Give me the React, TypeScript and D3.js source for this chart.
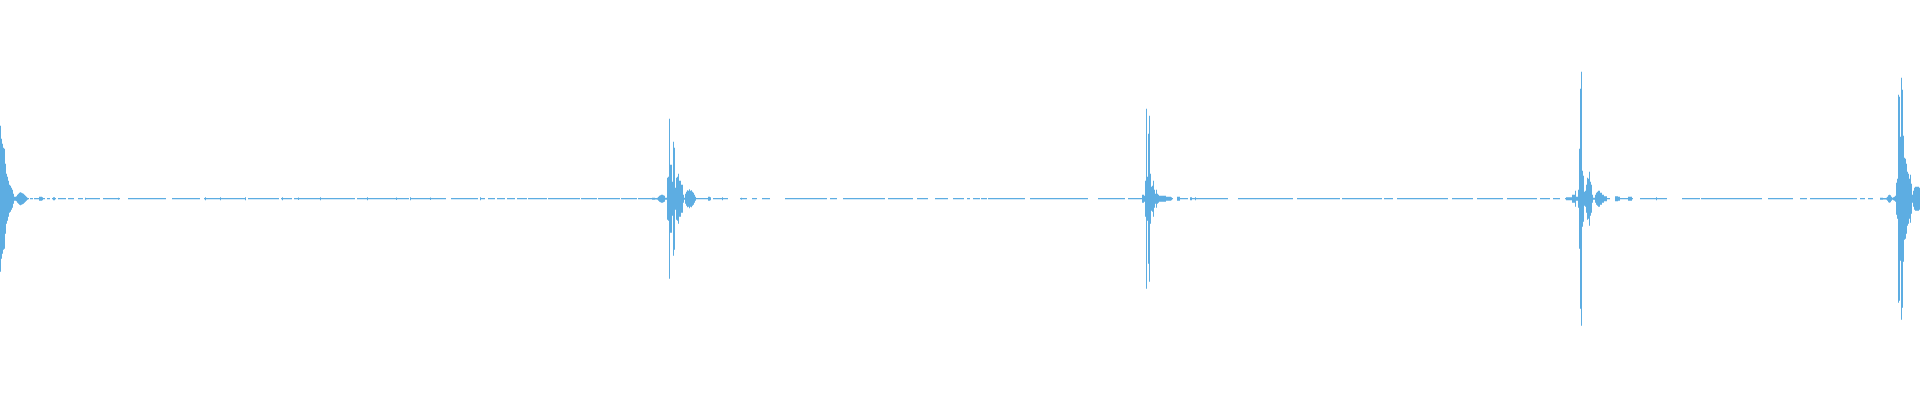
import React, { useMemo } from "react";
import * as d3 from "d3";

// Waveform peak envelope, one value per display column (amplitude units, full scale = ±200)
const TOTAL_COLUMNS = 1920;
const BASELINE_AMP = 0.65;

const burst1Start = 0;
const burst1Amp = [73, 60, 55, 51, 50, 35, 25, 22, 18, 14, 13, 11, 9, 5, 2, 2, 2.5, 4, 5, 6, 6.5, 6, 5.5, 5, 4, 3, 2, 1];

const burst2Start = 652;
const burst2Amp = [1, 1, 1, 0.7, 0.7, 1, 2, 3, 3.5, 4, 4, 3.5, 3, 1, 1, 21, 22, 80, 34, 34, 17, 57, 51, 11, 21, 22, 25, 18, 18, 14, 14, 4, 1, 5, 7, 8.5, 8, 9.5, 8, 8.5, 7, 6, 4, 2];

const burst3Start = 1142;
const burst3Amp = [4, 4, 3, 18, 90, 22, 65, 83, 25, 12, 13, 18, 9, 5, 9, 5, 4, 3, 3, 3, 3, 3, 3, 3, 2, 2, 2, 2, 2, 1.5];

const burst4Start = 1566;
const burst4Amp = [1.5, 1.5, 1.5, 1.5, 1.5, 1.5, 4, 4, 4, 8, 2, 2, 9, 50, 110, 127, 28, 23, 7, 8, 14, 21, 20, 27, 17, 14, 4, 1, 1, 4, 6, 7, 8, 8, 6, 6, 4, 4, 2.5, 2.5, 2.5];

const burst5Start = 1880;
const burst5Amp = [1, 1, 1, 0.7, 0.7, 0.7, 1, 2, 3.5, 4, 3.5, 2, 1, 1.5, 2, 3, 16, 20, 104, 102, 62, 121, 109, 63, 41, 40, 35, 27, 25, 20, 24, 15, 4, 8, 11, 12, 12, 12, 12, 11];

// Small isolated blips on the quiet baseline: [column, amplitude]
const blips: [number, number][] = [
  [39, 2], [40, 2], [41, 2], [42, 1.5], [53, 1.5], [54, 1.5], [85, 1], [118, 1],
  [205, 1.5], [220, 1.5], [245, 1.5], [282, 1.5], [298, 1.2], [320, 1.5], [367, 1.5],
  [396, 1.2], [410, 1.5], [430, 1.2], [480, 1.5],
  [708, 2], [709, 2], [710, 1.5], [722, 1.5], [741, 1],
  [1177, 2], [1178, 2], [1179, 2], [1190, 1.5], [1191, 1.5], [1195, 1.5],
  [1615, 2.5], [1616, 2.5], [1617, 2.5], [1618, 2], [1619, 2],
  [1628, 2], [1629, 2], [1630, 2], [1631, 2], [1656, 1.5],
];

// Silent stretches (exact zero) on the baseline: [start, end) columns
const gaps: [number, number][] = [
  [29, 30], [33, 34], [45, 47], [50, 52], [56, 58], [66, 68], [74, 78], [83, 85],
  [100, 103], [120, 128], [166, 172], [200, 204], [246, 248], [279, 281], [292, 294],
  [355, 357], [409, 410], [446, 451], [478, 480],
  [485, 488], [495, 497], [505, 507], [515, 517], [527, 528], [547, 548], [580, 581],
  [597, 598], [620, 621], [637, 638],
  [711, 713], [728, 740], [747, 752], [757, 762], [770, 785], [827, 830], [837, 843],
  [885, 888], [913, 917], [928, 935], [948, 953],
  [964, 967], [970, 973], [980, 981], [987, 988], [1025, 1030], [1088, 1098], [1125, 1128],
  [1173, 1177], [1188, 1190], [1228, 1238], [1293, 1297], [1340, 1342], [1382, 1384],
  [1393, 1397],
  [1448, 1452], [1473, 1477], [1503, 1507], [1537, 1540], [1550, 1553], [1560, 1565],
  [1610, 1615], [1633, 1640], [1667, 1682], [1700, 1701], [1762, 1768], [1793, 1800],
  [1807, 1810], [1857, 1860], [1865, 1868], [1873, 1880],
];

const bursts: [number, number[]][] = [
  [burst1Start, burst1Amp],
  [burst2Start, burst2Amp],
  [burst3Start, burst3Amp],
  [burst4Start, burst4Amp],
  [burst5Start, burst5Amp],
];

const WIDTH = 1920;
const HEIGHT = 400;
const CENTER = 198.7;
const COLOR = "#5DADE2";

export default function App() {
  const pathD = useMemo(() => {
    const amps: number[] = new Array(TOTAL_COLUMNS).fill(BASELINE_AMP);
    gaps.forEach(([s, e]) => {
      for (let i = s; i < e; i++) amps[i] = 0;
    });
    blips.forEach(([i, a]) => {
      amps[i] = a;
    });
    bursts.forEach(([start, arr]) => {
      arr.forEach((a, k) => {
        if (start + k < TOTAL_COLUMNS) amps[start + k] = a;
      });
    });

    const x = d3.scaleLinear().domain([0, TOTAL_COLUMNS]).range([0, WIDTH]);
    const y = d3.scaleLinear().domain([-200, 200]).range([CENTER + 200, CENTER - 200]);

    const path = d3.path();
    amps.forEach((a, i) => {
      if (a <= 0) return;
      const x0 = x(i);
      const x1 = x(i + 1);
      const yTop = y(a);
      const yBot = y(-a);
      path.rect(x0, yTop, x1 - x0, yBot - yTop);
    });
    return path.toString();
  }, []);

  return (
    <svg
      width={WIDTH}
      height={HEIGHT}
      style={{ position: "absolute", left: 0, top: 0, display: "block", background: "#ffffff" }}
    >
      <path d={pathD} fill={COLOR} />
    </svg>
  );
}
